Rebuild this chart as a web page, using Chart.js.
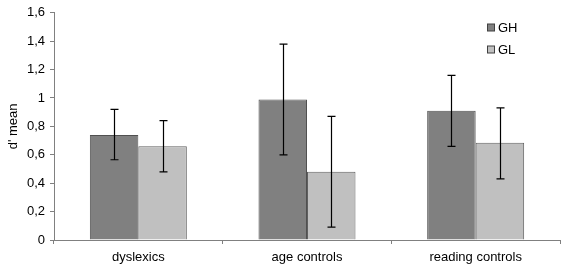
<!DOCTYPE html>
<html><head><meta charset="utf-8">
<script src="https://cdn.jsdelivr.net/npm/chart.js@4/dist/chart.umd.min.js"></script>
<style>html,body{margin:0;padding:0;background:#fff}#w{width:568px;height:274px}</style>
</head><body><div id="w"><canvas id="c"></canvas></div>
<script>
const categories = ["dyslexics", "age controls", "reading controls"];
const seriesNames = ["GH", "GL"];
const ghValues = [0.74, 0.99, 0.91];
const glValues = [0.66, 0.48, 0.685];
const ghErrLow = [0.565, 0.6, 0.66];
const ghErrHigh = [0.92, 1.38, 1.16];
const glErrLow = [0.48, 0.09, 0.43];
const glErrHigh = [0.84, 0.87, 0.93];
const yTicks = [0, 0.2, 0.4, 0.6, 0.8, 1, 1.2, 1.4, 1.6];

const FONT = "'Liberation Sans', Arial, sans-serif";
const colors = ["#808080", "#c0c0c0"];
const errs = [[ghErrLow, ghErrHigh], [glErrLow, glErrHigh]];

const errorBars = {
  id: 'errorBars',
  afterDatasetsDraw(chart) {
    const ctx = chart.ctx, y = chart.scales.y;
    ctx.save();
    ctx.strokeStyle = '#000';
    ctx.lineWidth = 1.2;
    chart.data.datasets.forEach((ds, i) => {
      const meta = chart.getDatasetMeta(i);
      meta.data.forEach((bar, j) => {
        const x = Math.round(bar.x) + 0.5;
        const yl = y.getPixelForValue(errs[i][0][j]);
        const yh = y.getPixelForValue(errs[i][1][j]);
        ctx.beginPath();
        ctx.moveTo(x, yl); ctx.lineTo(x, yh);
        ctx.moveTo(x - 4, yl); ctx.lineTo(x + 4, yl);
        ctx.moveTo(x - 4, yh); ctx.lineTo(x + 4, yh);
        ctx.stroke();
      });
    });
    ctx.restore();
  }
};

const customLegend = {
  id: 'customLegend',
  afterDraw(chart) {
    const ctx = chart.ctx;
    ctx.save();
    ctx.font = "13px " + FONT;
    ctx.textBaseline = 'middle';
    seriesNames.forEach((n, i) => {
      const yy = 27.5 + i * 22;
      ctx.fillStyle = colors[i];
      ctx.fillRect(487.5, yy - 3.5, 7, 7);
      ctx.strokeStyle = '#404040';
      ctx.lineWidth = 1;
      ctx.strokeRect(487.5, yy - 3.5, 7, 7);
      ctx.fillStyle = '#000';
      ctx.fillText(n, 498, yy + 0.5);
    });
    ctx.restore();
  }
};

new Chart(document.getElementById('c'), {
  type: 'bar',
  data: {
    labels: categories,
    datasets: [
      { label: seriesNames[0], data: ghValues, backgroundColor: colors[0], borderColor: '#505050', borderWidth: 1 },
      { label: seriesNames[1], data: glValues, backgroundColor: colors[1], borderColor: '#606060', borderWidth: 1 }
    ]
  },
  options: {
    responsive: true,
    maintainAspectRatio: false,
    animation: false,
    layout: { padding: { top: 3, right: 8, left: 0, bottom: 0 } },
    datasets: { bar: { categoryPercentage: 0.575, barPercentage: 1 } },
    plugins: { legend: { display: false }, tooltip: { enabled: false } },
    scales: {
      x: {
        grid: { display: true, drawOnChartArea: false, drawTicks: true, tickLength: 4, color: '#808080', offset: true },
        border: { color: '#808080', width: 1 },
        ticks: { font: { family: FONT, size: 13 }, color: '#000', padding: 6, maxRotation: 0 },
        afterFit(s) { s.height = 34; }
      },
      y: {
        min: 0, max: 1.6,
        afterBuildTicks(s) { s.ticks = yTicks.map(v => ({ value: v })); },
        grid: { display: true, drawOnChartArea: false, drawTicks: true, tickLength: 4, color: '#808080' },
        border: { color: '#808080', width: 1 },
        ticks: {
          font: { family: FONT, size: 13 }, color: '#000', padding: 5,
          callback: v => String(Math.round(v * 10) / 10).replace('.', ',')
        },
        title: { display: true, text: "d' mean", font: { family: FONT, size: 13 }, color: '#000', padding: { top: 6, bottom: 0 } },
        afterFit(s) { s.width = 54; }
      }
    }
  },
  plugins: [errorBars, customLegend]
});
</script>
</body></html>
